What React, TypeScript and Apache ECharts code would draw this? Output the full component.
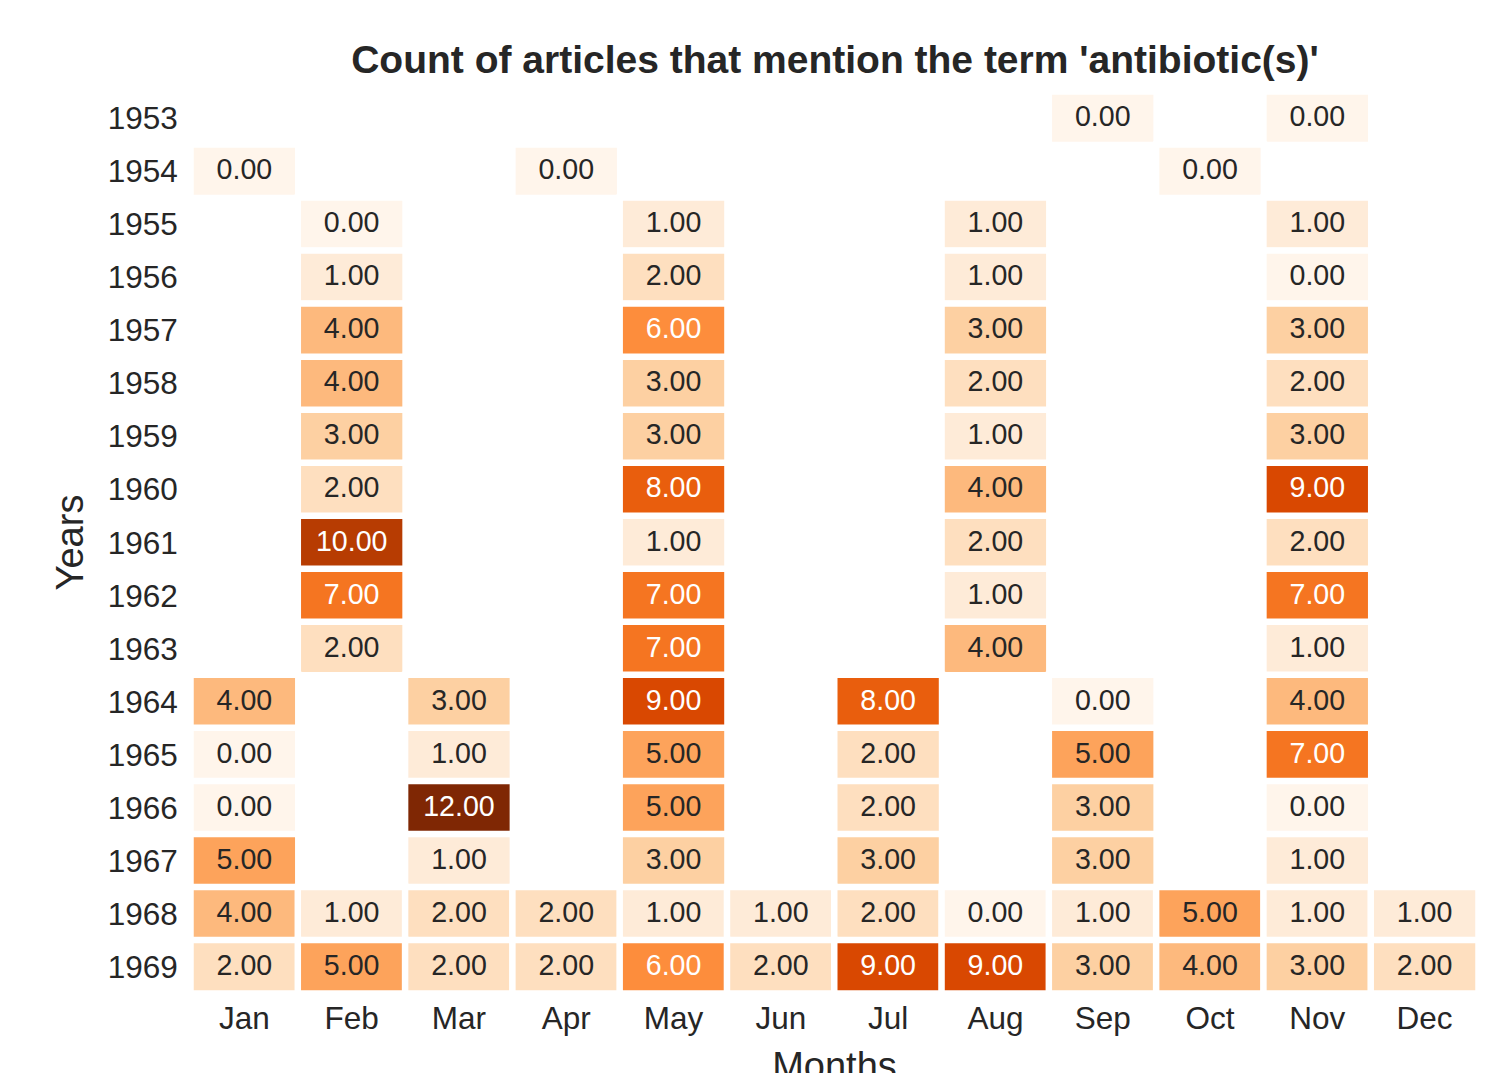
import React, { useEffect, useRef } from "react";
import * as echarts from "echarts";

const months = ["Jan", "Feb", "Mar", "Apr", "May", "Jun", "Jul", "Aug", "Sep", "Oct", "Nov", "Dec"];
const years = ["1953", "1954", "1955", "1956", "1957", "1958", "1959", "1960", "1961", "1962", "1963", "1964", "1965", "1966", "1967", "1968", "1969"];

// counts[yearIndex][monthIndex]; null = no data
const counts: (number | null)[][] = [
  [null, null, null, null, null, null, null, null, 0, null, 0, null],
  [0, null, null, 0, null, null, null, null, null, 0, null, null],
  [null, 0, null, null, 1, null, null, 1, null, null, 1, null],
  [null, 1, null, null, 2, null, null, 1, null, null, 0, null],
  [null, 4, null, null, 6, null, null, 3, null, null, 3, null],
  [null, 4, null, null, 3, null, null, 2, null, null, 2, null],
  [null, 3, null, null, 3, null, null, 1, null, null, 3, null],
  [null, 2, null, null, 8, null, null, 4, null, null, 9, null],
  [null, 10, null, null, 1, null, null, 2, null, null, 2, null],
  [null, 7, null, null, 7, null, null, 1, null, null, 7, null],
  [null, 2, null, null, 7, null, null, 4, null, null, 1, null],
  [4, null, 3, null, 9, null, 8, null, 0, null, 4, null],
  [0, null, 1, null, 5, null, 2, null, 5, null, 7, null],
  [0, null, 12, null, 5, null, 2, null, 3, null, 0, null],
  [5, null, 1, null, 3, null, 3, null, 3, null, 1, null],
  [4, 1, 2, 2, 1, 1, 2, 0, 1, 5, 1, 1],
  [2, 5, 2, 2, 6, 2, 9, 9, 3, 4, 3, 2],
];

const orangesPalette = ["#fff5eb", "#fee6ce", "#fdd0a2", "#fdae6b", "#fd8d3c", "#f16913", "#d94801", "#a63603", "#7f2704"];

const FONT = "'Liberation Sans', Arial, Helvetica, sans-serif";
const TEXT = "#262626";

export default function App() {
  const ref = useRef<HTMLDivElement>(null);

  useEffect(() => {
    if (!ref.current) return;
    const chart = echarts.init(ref.current, undefined, { renderer: "svg" });

    const data: any[] = [];
    counts.forEach((row, yi) => {
      row.forEach((v, xi) => {
        if (v === null) return;
        data.push({
          value: [xi, yi, v],
          label: { color: v >= 6 ? "#ffffff" : TEXT },
        });
      });
    });

    chart.setOption({
      animation: false,
      backgroundColor: "#ffffff",
      textStyle: { fontFamily: FONT },
      title: {
        text: "Count of articles that mention the term 'antibiotic(s)'",
        left: 830,
        textAlign: "center",
        top: 35,
        textStyle: { fontFamily: FONT, fontSize: 39, fontWeight: "bold", color: TEXT },
      },
      grid: {
        left: 190.75,
        top: 91.75,
        width: 1287.5,
        height: 901.5,
        containLabel: false,
        outerBoundsMode: "none",
      },
      xAxis: {
        type: "category",
        data: months,
        name: "Months",
        nameLocation: "middle",
        nameGap: 54,
        nameTextStyle: { fontFamily: FONT, fontSize: 38, color: TEXT, verticalAlign: "top" },
        axisLine: { show: false },
        axisTick: { show: false },
        splitLine: { show: false },
        axisLabel: { fontFamily: FONT, fontSize: 31.5, color: TEXT, margin: 9 },
      },
      yAxis: {
        type: "category",
        data: years,
        inverse: true,
        name: "Years",
        nameLocation: "middle",
        nameGap: 102,
        nameTextStyle: { fontFamily: FONT, fontSize: 38, color: TEXT },
        axisLine: { show: false },
        axisTick: { show: false },
        splitLine: { show: false },
        axisLabel: { fontFamily: FONT, fontSize: 31.5, color: TEXT, margin: 13, padding: [0, 0, 5, 0] },
      },
      visualMap: {
        show: false,
        min: 0,
        max: 12,
        dimension: 2,
        inRange: { color: orangesPalette },
      },
      series: [
        {
          type: "heatmap",
          data,
          itemStyle: { borderColor: "#ffffff", borderWidth: 6.5 },
          label: {
            show: true,
            fontFamily: FONT,
            fontSize: 28.6,
            offset: [0, -2],
            formatter: (p: any) => Number(p.value[2]).toFixed(2),
          },
          emphasis: { disabled: true },
        },
      ],
    });

    return () => chart.dispose();
  }, []);

  return <div ref={ref} style={{ position: "fixed", left: 0, top: 0, width: 1509, height: 1073 }} />;
}
